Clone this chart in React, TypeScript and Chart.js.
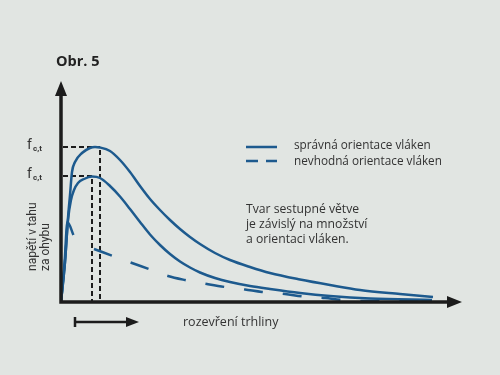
import React, { useEffect, useRef } from 'react';
import { Chart, registerables } from 'chart.js';

Chart.register(...registerables);

// ---- data (crack opening x, tensile bending stress y; arbitrary units) ----
const correctX = [0, 1, 1.75, 2.25, 2.75, 3.5, 5.25, 7.25, 8.5, 9.75, 12.25, 14.75, 17.25, 19.75, 22.25, 24.75, 27.25, 29.75, 32.25, 34.75, 38.5, 42.25, 47.25, 52.25, 59.75, 67.25, 74.75, 84.75, 93];
const correctY = [0, 20, 42, 53.5, 65, 70, 74.5, 77, 77.5, 77.25, 75.5, 71, 65, 58, 51.5, 46, 41, 36.5, 32.5, 29, 24.5, 21, 17.5, 14.5, 11.25, 8.5, 6, 4, 2.5];

const lowerX = [0, 1, 1.75, 2.5, 3.25, 4.25, 5.75, 7.75, 9.75, 12.25, 14.75, 17.25, 19.75, 22.25, 24.75, 27.25, 29.75, 32.25, 34.75, 38.5, 42.25, 47.25, 52.25, 59.75, 67.25, 77.25, 92.75];
const lowerY = [0, 20, 41, 51, 56, 59.5, 61.5, 62.75, 62, 58, 52.75, 46.5, 40, 33.75, 28.5, 24, 20.25, 17.25, 14.75, 12, 10, 8, 6.5, 4.5, 3, 1.75, 1];

const wrongX = [0, 0.9, 1.6, 3.1, 5, 8.25, 13, 17.75, 22, 26.75, 31, 36.5, 41, 46, 50.25, 56, 60.5, 66, 70.25, 76, 92.75];
const wrongY: (number | null)[] = [0, 20, 40, 33.5, null, 26.5, 23, 19.5, 16.5, 13, 11, 9, 7.5, 6.25, 5, 4, 2.75, 2, 1, 0.5, 0.5];

const peakX = [9.75, 7.75];
const peakY = [77.5, 63];

const titleText = 'Obr. 5';
const peakLabel = 'f';
const peakSub = 'c,t';
const legendLabels = ['správná orientace vláken', 'nevhodná orientace vláken'];
const noteLines = ['Tvar sestupné větve', 'je závislý na množství', 'a orientaci vláken.'];
const yTitleLines = ['napětí v tahu', 'za ohybu'];
const xTitle = 'rozevření trhliny';

// ---- styles ----
const BG = '#e1e5e2';
const BLUE = '#1d5a8e';
const AXIS = '#1c1c1c';
const TEXT = '#333333';
const FONT = '"Open Sans", Roboto, sans-serif';
const FONT_Y = 'Roboto, "Open Sans", sans-serif';

const zip = (xs: number[], ys: (number | null)[]) => xs.map((x, i) => ({ x, y: ys[i] }));

const decorPlugin = {
  id: 'decor',
  beforeDraw(chart: any) {
    const ctx = chart.ctx;
    ctx.save();
    ctx.fillStyle = BG;
    ctx.fillRect(0, 0, chart.width, chart.height);
    ctx.restore();
  },
  beforeDatasetsDraw(chart: any) {
    const { ctx, scales } = chart;
    const xs = scales.x, ys = scales.y;
    const x0 = xs.getPixelForValue(0), y0 = ys.getPixelForValue(0);
    ctx.save();
    ctx.strokeStyle = AXIS;
    ctx.lineWidth = 2;
    ctx.setLineDash([5, 3]);
    peakX.forEach((pv, i) => {
      const gx = xs.getPixelForValue(pv), gy = ys.getPixelForValue(peakY[i]);
      ctx.beginPath();
      ctx.moveTo(x0 + 2, gy);
      ctx.lineTo(gx, gy);
      ctx.lineTo(gx, y0);
      ctx.stroke();
    });
    ctx.restore();
  },
  afterDatasetsDraw(chart: any) {
    const { ctx, scales } = chart;
    const xs = scales.x, ys = scales.y;
    const x0 = xs.getPixelForValue(0), y0 = ys.getPixelForValue(0);
    const xEnd = xs.getPixelForValue(100.25);
    const yTop = ys.getPixelForValue(110.5);
    ctx.save();
    // axes
    ctx.strokeStyle = AXIS;
    ctx.fillStyle = AXIS;
    ctx.lineWidth = 3.5;
    ctx.setLineDash([]);
    ctx.beginPath();
    ctx.moveTo(x0, yTop + 12);
    ctx.lineTo(x0, y0);
    ctx.lineTo(xEnd - 12, y0);
    ctx.stroke();
    ctx.beginPath();
    ctx.moveTo(x0, yTop);
    ctx.lineTo(x0 - 6, yTop + 15);
    ctx.lineTo(x0 + 6, yTop + 15);
    ctx.closePath();
    ctx.fill();
    ctx.beginPath();
    ctx.moveTo(xEnd, y0);
    ctx.lineTo(xEnd - 15, y0 - 6);
    ctx.lineTo(xEnd - 15, y0 + 6);
    ctx.closePath();
    ctx.fill();

    // crack opening arrow under axis
    ctx.lineWidth = 2.5;
    ctx.beginPath();
    ctx.moveTo(75, 317);
    ctx.lineTo(75, 327);
    ctx.moveTo(75, 322);
    ctx.lineTo(128, 322);
    ctx.stroke();
    ctx.beginPath();
    ctx.moveTo(139, 322);
    ctx.lineTo(126, 317);
    ctx.lineTo(126, 327);
    ctx.closePath();
    ctx.fill();

    // title
    ctx.fillStyle = '#222';
    ctx.font = `bold 14.5px ${FONT}`;
    ctx.textAlign = 'left';
    ctx.textBaseline = 'alphabetic';
    ctx.fillText(titleText, 56, 66);

    // f_c,t labels
    ctx.fillStyle = TEXT;
    peakY.forEach((pv) => {
      const gy = ys.getPixelForValue(pv);
      ctx.font = `14px ${FONT_Y}`;
      ctx.fillText(peakLabel, 27, gy + 2);
      ctx.font = `bold 8px ${FONT_Y}`;
      ctx.fillText(peakSub, 33, gy + 4);
    });

    // y title (rotated)
    ctx.font = `12px ${FONT_Y}`;
    yTitleLines.forEach((t, i) => {
      ctx.save();
      ctx.translate(36 + i * 12.5, 271);
      ctx.rotate(-Math.PI / 2);
      ctx.textAlign = 'left';
      ctx.textBaseline = 'alphabetic';
      ctx.fillText(t, 0, 0);
      ctx.restore();
    });

    // x title
    ctx.font = `12.5px ${FONT}`;
    ctx.textBaseline = 'middle';
    ctx.fillText(xTitle, 183, 322);

    // legend
    ctx.strokeStyle = BLUE;
    ctx.lineWidth = 2.5;
    ctx.beginPath();
    ctx.moveTo(246, 147);
    ctx.lineTo(277, 147);
    ctx.moveTo(246, 161);
    ctx.lineTo(258, 161);
    ctx.moveTo(266, 161);
    ctx.lineTo(277, 161);
    ctx.stroke();
    ctx.font = `11.75px ${FONT}`;
    ctx.fillStyle = TEXT;
    legendLabels.forEach((t, i) => ctx.fillText(t, 294, 146 + i * 15.5));

    // note
    ctx.font = `12.2px ${FONT}`;
    noteLines.forEach((t, i) => ctx.fillText(t, 246, 210 + i * 15));
    ctx.restore();
  },
};

export default function App() {
  const ref = useRef<HTMLCanvasElement>(null);
  useEffect(() => {
    if (!ref.current) return;
    const common = {
      borderColor: BLUE,
      borderWidth: 2.5,
      pointRadius: 0,
      cubicInterpolationMode: 'monotone',
      fill: false,
    };
    const chart = new Chart(ref.current, {
      type: 'line',
      data: {
        datasets: [
          { ...common, label: legendLabels[0], data: zip(correctX, correctY) },
          { ...common, label: legendLabels[0] + ' (nižší)', data: zip(lowerX, lowerY) },
          {
            ...common,
            label: legendLabels[1],
            data: zip(wrongX, wrongY),
            spanGaps: false,
            segment: {
              borderDash: (c: any) => (c.p0DataIndex < 4 ? [] : [19, 20]),
            },
          },
        ],
      } as any,
      options: {
        responsive: false,
        animation: false,
        devicePixelRatio: 1,
        events: [],
        layout: { padding: { left: 61, right: 39, top: 82, bottom: 73 } },
        scales: {
          x: { type: 'linear', min: 0, max: 100, display: false },
          y: { type: 'linear', min: 0, max: 110, display: false },
        },
        plugins: { legend: { display: false }, tooltip: { enabled: false } },
      } as any,
      plugins: [decorPlugin],
    });
    return () => chart.destroy();
  }, []);
  return (
    <div style={{ position: 'fixed', left: 0, top: 0, width: 500, height: 375, background: BG }}>
      <canvas ref={ref} width={500} height={375} style={{ display: 'block' }} />
    </div>
  );
}
